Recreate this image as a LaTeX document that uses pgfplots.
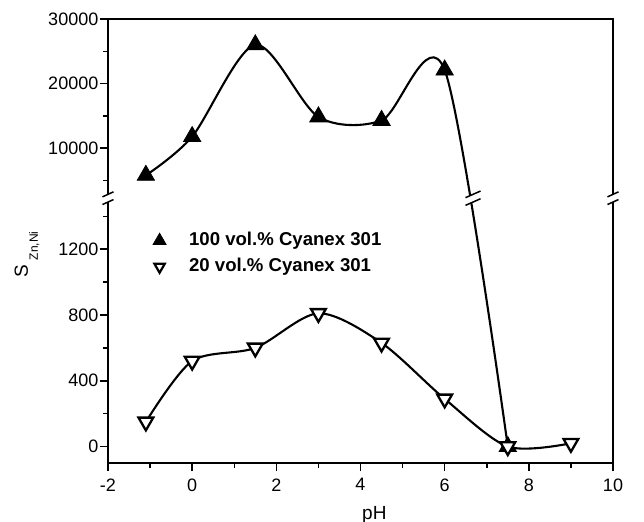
\documentclass[border=0pt]{standalone}
\usepackage{fontspec}
\setmainfont{Liberation Sans}
\usepackage{pgfplots}
\pgfplotsset{compat=1.18}
\newcommand{\brk}[3]{% center, dx, dy
  \fill[white] ($#1+(-#2,-#3)+(0,-3.85bp)$) -- ($#1+(#2,#3)+(0,-3.85bp)$) -- ($#1+(#2,#3)+(0,3.85bp)$) -- ($#1+(-#2,-#3)+(0,3.85bp)$) -- cycle;
  \draw[black, line width=1.5bp] ($#1+(-#2,-#3)+(0,-3.85bp)$) -- ($#1+(#2,#3)+(0,-3.85bp)$);
  \draw[black, line width=1.5bp] ($#1+(-#2,-#3)+(0,3.85bp)$) -- ($#1+(#2,#3)+(0,3.85bp)$);
}
\usetikzlibrary{calc}
\begin{document}
\begin{tikzpicture}
\begin{axis}[
  scale only axis, width=505bp, height=444bp,
  xmin=-2, xmax=10, ymin=-100, ymax=30000,
  y coord trafo/.code={%
    \begingroup
    \pgfkeys{/pgf/fpu=true,/pgf/fpu/output format=fixed}%
    \pgfmathparse{min(#1,1500)+max(#1-2000,0)*0.03929}%
    \xdef\mytrafores{\pgfmathresult}%
    \endgroup
    \let\pgfmathresult\mytrafores
  },
  xtick={-2,0,2,4,6,8,10},
  minor xtick={-1,1,3,5,7,9},
  ytick={0,400,800,1200,10000,20000,30000},
  yticklabels={0,400,800,1200,10000,20000,30000},
  minor ytick={200,600,1000,1400,5000,15000,25000},
  xtick pos=left, ytick pos=left,
  tick align=outside,
  major tick length=8bp, minor tick length=5bp,
  every tick/.style={black, line width=1.5bp},
  axis line style={line width=1.6bp},
  tick label style={font=\fontsize{18bp}{21bp}\selectfont},
  /pgf/number format/assume math mode=true,
  yticklabel style={inner xsep=1.5bp},
  xticklabel style={yshift=-4bp},
  xlabel={pH},
  xlabel style={font=\fontsize{19bp}{22bp}\selectfont, at={(rel axis cs:0.503,0)}, anchor=base west, yshift=-56bp, inner sep=0pt},
  ylabel={S\hspace{5bp}\raisebox{-10bp}{\fontsize{12bp}{14bp}\selectfont Zn,Ni}},
  ylabel style={font=\fontsize{19bp}{22bp}\selectfont, at={([xshift=-80bp]rel axis cs:0,0.4167)}, anchor=base west, inner sep=0pt},
  legend cell align=left,
  legend style={draw=none, fill=none, at={(rel axis cs:0.083,0.528)}, anchor=north west,
    font=\fontsize{18.6bp}{22bp}\selectfont\bfseries, row sep=6bp, column sep=22bp,
    nodes={text height=14bp, text depth=4bp, inner sep=1bp}},
]
\addplot[black, line width=2.1bp, smooth, mark=triangle*, mark size=10bp,
  mark options={fill=black, line width=0.8bp}, forget plot]
  coordinates {(-1.1,5800) (0,11800) (1.5,26000) (3,14850) (4.5,14300) (6,22100) (7.5,0)};
\addplot[black, line width=2.1bp, smooth, mark=triangle*, mark size=8.5bp,
  mark options={rotate=180, fill=white, line width=2.3bp}, forget plot]
  coordinates {(-1.1,150) (0,520) (1.5,600) (3,810) (4.5,630) (6,290) (7.5,0) (9,20)};
\addlegendimage{only marks, black, mark=triangle*, mark size=7.5bp, mark options={fill=black, line width=0.8bp}}
\addlegendentry{100 vol.\% Cyanex 301}
\addlegendimage{only marks, black, mark=triangle*, mark size=6bp, mark options={rotate=180, fill=white, line width=2.2bp}}
\addlegendentry{20 vol.\% Cyanex 301}
\coordinate (bl) at (rel axis cs:0,0);
\coordinate (tr) at (rel axis cs:1,1);
\coordinate (bkL) at (rel axis cs:0,0.5964);
\coordinate (bkR) at (rel axis cs:1,0.5964);
\coordinate (bkC) at (rel axis cs:0.7228,0.5964);
\end{axis}
\brk{(bkL)}{5.5bp}{2.5bp}
\brk{(bkR)}{5.5bp}{2.5bp}
\brk{(bkC)}{7.5bp}{3.3bp}
\pgfresetboundingbox
\path[use as bounding box] ([shift={(-108bp,-59bp)}]bl) rectangle ([shift={(31bp,19bp)}]tr);
\end{tikzpicture}
\end{document}
